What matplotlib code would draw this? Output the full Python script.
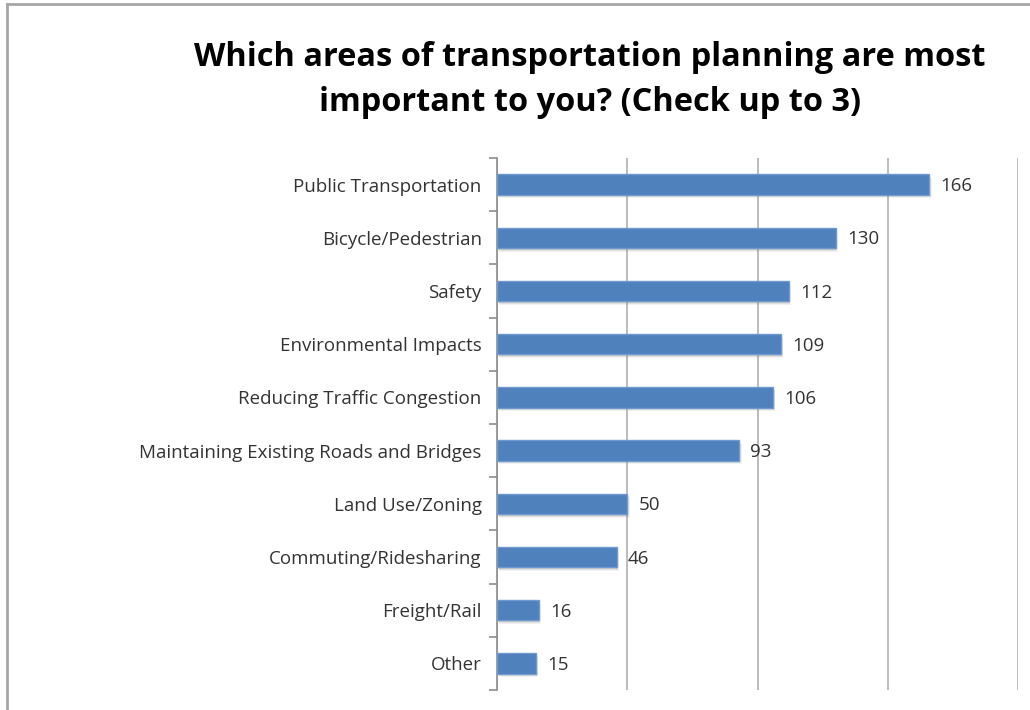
import matplotlib.pyplot as plt
import numpy as np

categories = [
    "Public Transportation",
    "Bicycle/Pedestrian",
    "Safety",
    "Environmental Impacts",
    "Reducing Traffic Congestion",
    "Maintaining Existing Roads and Bridges",
    "Land Use/Zoning",
    "Commuting/Ridesharing",
    "Freight/Rail",
    "Other",
]
counts = [166, 130, 112, 109, 106, 93, 50, 46, 16, 15]
title = "Which areas of transportation planning are most\nimportant to you? (Check up to 3)"

plt.rcParams['font.family'] = ['Open Sans', 'DejaVu Sans']

fig = plt.figure(figsize=(10.30, 7.10), dpi=100)
ax = fig.add_axes([497 / 1030, 1 - 690 / 710, (1018 - 497) / 1030, (690 - 158) / 710])

y = np.arange(len(categories))
bar_h = 0.38

# soft drop shadow behind each bar
for dx, dy, a in [(0.9, 0.07, 0.10), (0.6, 0.05, 0.15), (0.3, 0.03, 0.2)]:
    ax.barh(y + dy, counts, height=bar_h, left=dx, color='#7f7f7f', alpha=a,
            linewidth=0, zorder=2)
ax.barh(y, counts, height=bar_h, color='#4f81bd', edgecolor='#6f9ad0',
        linewidth=1.0, zorder=3)

for yi, v in zip(y, counts):
    ax.text(v + 4.3, yi + 0.03, str(v), va='center', ha='left', fontsize=13.5,
            color='#333333', zorder=4)

ax.set_xlim(0, 200)
ax.set_ylim(len(categories) - 0.5, -0.5)
ax.set_xticks([0, 50, 100, 150, 200])
ax.xaxis.grid(True, color='#b0b0b0', linewidth=1.2, zorder=0)
ax.tick_params(axis='x', length=0, labelbottom=False)

ax.set_yticks(y)
ax.set_yticklabels(categories, fontsize=13.5, color='#333333')
ax.set_yticks(np.arange(-0.5, len(categories)), minor=True)
ax.tick_params(axis='y', which='major', length=0, pad=11)
ax.tick_params(axis='y', which='minor', length=6, width=1.2, color='#8c8c8c')

for s in ['top', 'right', 'bottom']:
    ax.spines[s].set_visible(False)
ax.spines['left'].set_color('#8c8c8c')
ax.spines['left'].set_linewidth(1.2)

fig.text(590 / 1030, 1 - 80 / 710, title, ha='center', va='center',
         fontsize=23.4, fontweight='bold', color='black', linespacing=1.45)

# outer chart frame
fig.add_artist(plt.Line2D([7 / 1030, 7 / 1030], [0, 1 - 4 / 710],
                          transform=fig.transFigure, color='#a6a6a6', linewidth=2))
fig.add_artist(plt.Line2D([7 / 1030, 1], [1 - 4 / 710, 1 - 4 / 710],
                          transform=fig.transFigure, color='#a6a6a6', linewidth=2))

fig.savefig('out.png', dpi=100, facecolor='white')
